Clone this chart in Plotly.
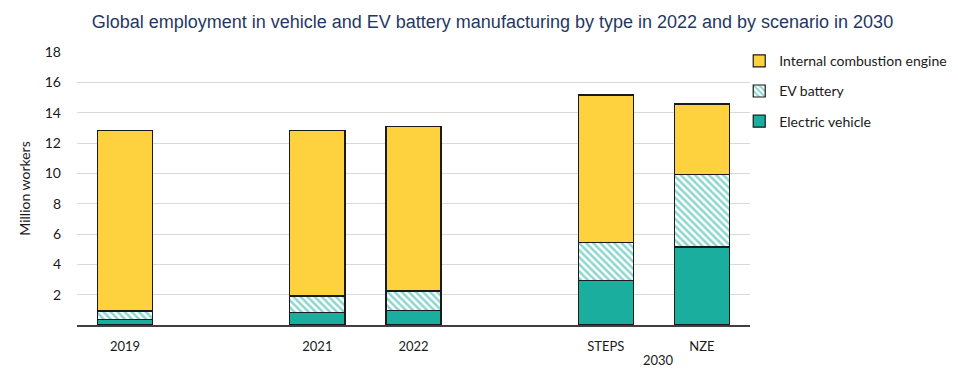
import plotly.graph_objects as go

categories = ["2019", " ", "2021", "2022", "  ", "STEPS", "NZE"]
electric_vehicle = [0.37, None, 0.84, 0.97, None, 2.95, 5.14]
ev_battery = [0.55, None, 1.07, 1.27, None, 2.50, 4.79]
ice = [11.93, None, 10.90, 10.83, None, 9.71, 4.64]
y_ticks = [2, 4, 6, 8, 10, 12, 14, 16, 18]

TEAL = "#1AAE9F"
YELLOW = "#FDD23E"
FONT = "Lato"
TXT = "#1a1a1a"

fig = go.Figure()
line = dict(color="#1a1a1a", width=1.2)
fig.add_trace(go.Bar(x=categories, y=electric_vehicle, name="Electric vehicle",
                     marker=dict(color=TEAL, line=line), legendgroup="ev", legendrank=3))
fig.add_trace(go.Bar(x=categories, y=ev_battery, name="EV battery",
                     marker=dict(color="white", line=line,
                                 pattern=dict(shape="\\", fgcolor=TEAL, bgcolor="white",
                                              size=5, solidity=0.5)),
                     legendgroup="bat", legendrank=2))
fig.add_trace(go.Bar(x=categories, y=ice, name="Internal combustion engine",
                     marker=dict(color=YELLOW, line=line), legendgroup="ice", legendrank=1))

fig.update_layout(
    width=958, height=375,
    barmode="stack", bargap=0.427,
    plot_bgcolor="white", paper_bgcolor="white",
    margin=dict(l=77, r=208, t=52, b=50, autoexpand=False),
    font=dict(family=FONT, size=13, color=TXT),
    title=dict(text="Global employment in vehicle and EV battery manufacturing by type in 2022 and by scenario in 2030",
               font=dict(family="Liberation Sans, Arial", size=18, color="#1F3864"),
               x=0.514, xanchor="center", xref="container",
               y=1 - 22 / 375, yanchor="middle", yref="container"),
    legend=dict(x=0.984, xanchor="left", y=1.025, yanchor="top",
                traceorder="grouped", tracegroupgap=9, bgcolor="rgba(0,0,0,0)",
                font=dict(family=FONT, size=14, color=TXT), itemwidth=30),
    xaxis=dict(type="category", categoryorder="array", categoryarray=categories,
               showline=True, linecolor="#404040", linewidth=2, showgrid=False,
               ticks="", ticklabelstandoff=8, automargin=False,
               tickfont=dict(size=13, color=TXT)),
    yaxis=dict(range=[0, 18], tickvals=y_ticks, showgrid=True, gridcolor="#D9D9D9",
               gridwidth=1.3, zeroline=False, showline=False, ticks="",
               ticklabelstandoff=15, automargin=False,
               tickfont=dict(size=14, color=TXT),
               title=dict(text="Million workers", font=dict(size=14, color=TXT), standoff=10)),
    annotations=[dict(x=5.55, y=(325 - 360) / 273, xref="x", yref="paper", text="2030",
                      showarrow=False, font=dict(family=FONT, size=13, color=TXT),
                      xanchor="center", yanchor="middle")],
)

fig.write_html("out.html", config={"displayModeBar": False},
               post_script="document.body.style.margin='0';")
